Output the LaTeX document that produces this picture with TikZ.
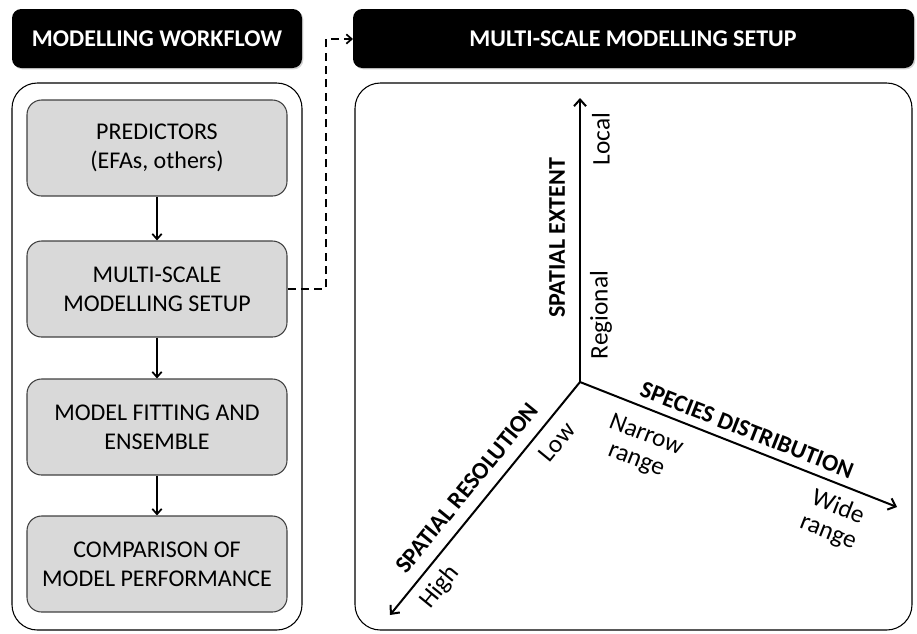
\documentclass[tikz,border=0pt]{standalone}
\usepackage{fontspec}
\setmainfont{Carlito}
\usetikzlibrary{arrows.meta,shadows}
\begin{document}
\begin{tikzpicture}[x=0.75pt,y=-0.75pt,
  header/.style={fill=black,rounded corners=7pt,
     drop shadow={opacity=0.35,shadow xshift=1pt,shadow yshift=-1pt}},
  htext/.style={text=white,font=\bfseries\fontsize{18}{21}\selectfont},
  panel/.style={draw=black,line width=0.8pt,rounded corners=19pt},
  stepbox/.style={draw=black!75,fill=black!15,rounded corners=11pt,line width=0.8pt,
     minimum width=195pt,minimum height=72pt,align=center,font=\fontsize{18}{21.5}\selectfont},
  flow/.style={line width=1.3pt,-{Straight Barb[length=4pt,width=7pt]}},
  axis/.style={line width=1.5pt,-{Straight Barb[length=5pt,width=9pt]}},
  axtitle/.style={font=\bfseries\fontsize{18}{21}\selectfont},
  axlab/.style={font=\fontsize{19}{20}\selectfont,align=center}
]
\useasboundingbox (0,0) rectangle (917,633);
% headers
\path[header] (12,9) rectangle (302,68);
\node[htext] (h1) at (157,39) {MODELLING WORKFLOW};
\path[header] (353,9) rectangle (914,68);
\node[htext] (h2) at (633,39) {MULTI-SCALE MODELLING SETUP};
\coordinate (h2w) at (353,39);
% panels
\draw[panel] (12,83) rectangle (302,630);
\draw[panel] (355,83) rectangle (912,630);
% step boxes
\node[stepbox] (b1) at (157,148) {PREDICTORS\\(EFAs, others)};
\node[stepbox] (b2) at (157,289) {MULTI-SCALE\\MODELLING SETUP};
\node[stepbox] (b3) at (157,427) {MODEL FITTING AND\\ENSEMBLE};
\node[stepbox] (b4) at (157,564) {COMPARISON OF\\MODEL PERFORMANCE};
\draw[flow] (b1) -- (b2);
\draw[flow] (b2) -- (b3);
\draw[flow] (b3) -- (b4);
% dashed link
\draw[line width=1.3pt,dash pattern=on 6pt off 4pt,-{Straight Barb[length=4pt,width=7pt]}]
  (b2.east) -- (326,289) -- (326,39) -- (h2w);
% axes
\coordinate (o) at (580,382);
\coordinate (up) at (580,98);
\coordinate (dl) at (390,615);
\coordinate (dr) at (897,507);
\draw[axis] (o) -- (up);
\draw[axis] (o) -- (dl);
\draw[axis] (o) -- (dr);
\node[axtitle,rotate=90] (t1) at (557,238) {SPATIAL EXTENT};
\node[axlab,rotate=90] (l1) at (601,139) {Local};
\node[axlab,rotate=90] (l2) at (601,315) {Regional};
\node[axtitle,rotate=50.8] (t2) at (467,488) {SPATIAL RESOLUTION};
\node[axlab,rotate=50.8] (l3) at (557,442) {Low};
\node[axlab,rotate=50.8] (l4) at (440,587) {High};
\node[axtitle,rotate=-21.5] (t3) at (747,430) {SPECIES DISTRIBUTION};
\node[axlab,rotate=-21.5] (l5) at (641,448) {Narrow\\range};
\node[axlab,rotate=-21.5] (l6) at (833,520) {Wide\\range};
\end{tikzpicture}
\end{document}
